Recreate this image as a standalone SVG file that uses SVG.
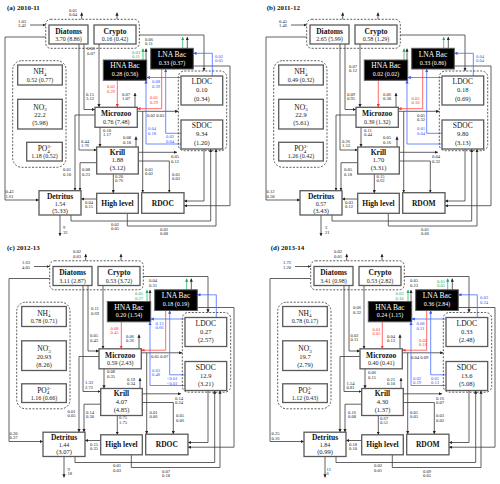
<svg xmlns="http://www.w3.org/2000/svg" width="500" height="484" viewBox="0 0 500 484">
<style>
text{font-family:"Liberation Serif","DejaVu Serif",serif}
.bx{fill:#fff;stroke:#5a5a5a;stroke-width:1.3}
.bk{fill:#000;stroke:#5a5a5a;stroke-width:1}
.dg{fill:none;stroke:#333;stroke-width:0.8;stroke-dasharray:2 1.5}
.ln{fill:none;stroke-width:0.8}
.k{stroke:#3a3a3a;marker-end:url(#ak)}
.bl{stroke:#4a6cff;marker-end:url(#ab)}
.rd{stroke:#ff4545;marker-end:url(#ar)}
.gr{stroke:#2db86a;marker-end:url(#ag)}
.nm{font-size:7.5px;font-weight:bold;text-anchor:middle;fill:#111}
.nr{font-size:7.5px;text-anchor:middle;fill:#111}
.v{font-size:6px;text-anchor:middle;fill:#222}
.v2{font-size:6.5px;text-anchor:middle;fill:#222}
.w{fill:#fff}
.lb{font-size:4.6px;fill:#222}
.lbb{fill:#3355ff}
.lbr{fill:#ff3030}
.lbg{fill:#1faa55}
.ttl{font-size:7px;font-weight:bold;fill:#111}
</style>
<defs>
<marker id="ak" viewBox="0 0 6 6" refX="6" refY="3" markerWidth="3.2" markerHeight="3.2" markerUnits="userSpaceOnUse" orient="auto"><path d="M0,0L6,3L0,6z" fill="#222"/></marker>
<marker id="ab" viewBox="0 0 6 6" refX="6" refY="3" markerWidth="3.2" markerHeight="3.2" markerUnits="userSpaceOnUse" orient="auto"><path d="M0,0L6,3L0,6z" fill="#3355ff"/></marker>
<marker id="ar" viewBox="0 0 6 6" refX="6" refY="3" markerWidth="3.2" markerHeight="3.2" markerUnits="userSpaceOnUse" orient="auto"><path d="M0,0L6,3L0,6z" fill="#ff3030"/></marker>
<marker id="ag" viewBox="0 0 6 6" refX="6" refY="3" markerWidth="3.2" markerHeight="3.2" markerUnits="userSpaceOnUse" orient="auto"><path d="M0,0L6,3L0,6z" fill="#1faa55"/></marker>
<g id="net">
<path class="ln k" d="M81.7,19.3V12.5"/>
<path class="ln k" d="M117,19.3V12.5"/>
<path class="ln k" d="M30,25H45.7"/>
<path class="ln k" d="M45.7,37H5V200H39"/>
<path class="ln k" d="M139.3,35H204V71"/>
<path class="ln k" d="M146,60V48.5"/>
<path class="ln k" d="M187.3,48.3V37"/>
<path class="ln k" d="M99,44V107.3"/>
<path class="ln k" d="M84,44V109.5H95"/>
<path class="ln k" d="M79,44V150H96.7"/>
<path class="ln k" d="M95,115H75V190.7"/>
<path class="ln k" d="M100,127.3V147"/>
<path class="ln k" d="M135,107.3V93"/>
<path class="ln k" d="M137.3,111.3H178.3"/>
<path class="ln k" d="M142.7,111.3V192.7"/>
<path class="ln k" d="M136,147V136.5"/>
<path class="ln k" d="M138.3,152.3H177"/>
<path class="ln k" d="M138.3,161H169.3V192.7"/>
<path class="ln k" d="M96.7,162.7H80V190.7"/>
<path class="ln k" d="M113.3,174V193.3"/>
<path class="ln k" d="M96.7,199H81"/>
<path class="ln k" d="M60,215V236"/>
<path class="ln k" d="M71,215V221H210.7V149"/>
<path class="ln k" d="M127.3,213.3V226H216V149"/>
<path class="ln k" d="M204,149V201H184"/>
<path class="ln k" d="M193.3,66H230V205.7H184"/>
<path class="ln gr" d="M143,60V48.5"/>
<path class="ln gr" d="M182.7,48.3V37"/>
<path class="ln bl" d="M212.3,76V53.3H193.3"/>
<path class="ln bl" d="M181,77.5H146.7"/>
<path class="ln bl" d="M181,144H146V80.3"/>
<path class="ln bl" d="M181,133.3H165.7V69"/>
<path class="ln rd" d="M117.3,80.3V107.3"/>
<path class="ln rd" d="M161.7,69V108.7H137.3"/>
</g>
</defs>
<rect width="500" height="484" fill="#fff"/>

<g id="titles">
<text class="ttl" x="7" y="10">(a) 2010-11</text>
<text class="ttl" x="266.7" y="10">(b) 2011-12</text>
<text class="ttl" x="7" y="250">(c) 2012-13</text>
<text class="ttl" x="270.7" y="250">(d) 2013-14</text>
</g>

<g id="connectors">
<use href="#net"/>
<use href="#net" transform="translate(261,0)"/>
<use href="#net" transform="translate(4,241.5)"/>
<use href="#net" transform="translate(265,241.5)"/>

<g id="labels-a">
<text class="lb" x="69" y="11.5">0.01<tspan x="69" dy="4.8">0.04</tspan></text>
<text class="lb" x="18" y="22.5">1.03<tspan x="18" dy="4.8">3.42</tspan></text>
<text class="lb" x="145" y="40.5">0.06<tspan x="145" dy="4.8">0.11</tspan></text>
<text class="lb lbg" x="132" y="53.5">0.03<tspan x="132" dy="4.8">0.11</tspan></text>
<text class="lb lbb" x="215" y="57.5">0.02<tspan x="215" dy="4.8">0.05</tspan></text>
<text class="lb lbb" x="152" y="83">0.08<tspan x="152" dy="4.8">0.39</tspan></text>
<text class="lb lbr" x="107" y="88">0.02<tspan x="107" dy="4.8">0.29</tspan></text>
<text class="lb lbr" x="150" y="99">0.01<tspan x="150" dy="4.8">0.29</tspan></text>
<text class="lb" x="87" y="50">0.05<tspan x="87" dy="4.8">0.07</tspan></text>
<text class="lb" x="86" y="95.5">0.15<tspan x="86" dy="4.8">3.12</tspan></text>
<text class="lb" x="122" y="95.5">0.07<tspan x="122" dy="4.8">1.07</tspan></text>
<text class="lb" x="147" y="116.5">0.02 0.03</text>
<text class="lb lbb" x="148" y="130">0.04<tspan x="148" dy="4.8">0.18</tspan></text>
<text class="lb lbb" x="166" y="138">0.02<tspan x="166" dy="4.8">0.04</tspan></text>
<text class="lb" x="103" y="131.5">0.10<tspan x="103" dy="4.8">1.17</tspan></text>
<text class="lb" x="81" y="142.5">0.44<tspan x="81" dy="4.8">1.76</tspan></text>
<text class="lb" x="123" y="139">0.08<tspan x="123" dy="4.8">0.18</tspan></text>
<text class="lb" x="171" y="158">0.05<tspan x="171" dy="4.8">0.12</tspan></text>
<text class="lb" x="63" y="171">0.01<tspan x="63" dy="4.8">0.10</tspan></text>
<text class="lb" x="82" y="171">0.08<tspan x="82" dy="4.8">0.23</tspan></text>
<text class="lb" x="145" y="170.5">0.01<tspan x="145" dy="4.8">0.02</tspan></text>
<text class="lb" x="172" y="175.5">0.01<tspan x="172" dy="4.8">0.03</tspan></text>
<text class="lb" x="115" y="177.5">0.20<tspan x="115" dy="4.8">0.76</tspan></text>
<text class="lb" x="5.5" y="193">0.43<tspan x="5.5" dy="4.8">1.61</tspan></text>
<text class="lb" x="85" y="203.5">0.04<tspan x="85" dy="4.8">0.15</tspan></text>
<text class="lb" x="63" y="229">9<tspan x="63" dy="4.8">32</tspan></text>
<text class="lb" x="111" y="225.5">0.02<tspan x="111" dy="4.8">0.05</tspan></text>
<text class="lb" x="160" y="230.5">0.02<tspan x="160" dy="4.8">0.08</tspan></text>
</g>

<g id="labels-b" transform="translate(261,0)">
<text class="lb" x="18" y="22.5">0.45<tspan x="18" dy="4.8">1.46</tspan></text>
<text class="lb" x="88" y="67.5">0.07<tspan x="88" dy="4.8">0.12</tspan></text>
<text class="lb" x="86" y="95.5">0.09<tspan x="86" dy="4.8">0.95</tspan></text>
<text class="lb" x="122" y="95.5">0.06<tspan x="122" dy="4.8">0.30</tspan></text>
<text class="lb lbr" x="150.5" y="99.5">0.03<tspan x="150.5" dy="4.8">0.10</tspan></text>
<text class="lb lbb" x="215" y="57.5">0.04<tspan x="215" dy="4.8">0.04</tspan></text>
<text class="lb" x="156" y="116.5">0.05<tspan x="156" dy="4.8">0.32</tspan></text>
<text class="lb lbb" x="156" y="130">0.01<tspan x="156" dy="4.8">0.04</tspan></text>
<text class="lb" x="103" y="131.5">0.11<tspan x="103" dy="4.8">0.44</tspan></text>
<text class="lb" x="81" y="142.5">0.26<tspan x="81" dy="4.8">1.53</tspan></text>
<text class="lb" x="122" y="139">0.05<tspan x="122" dy="4.8">0.16</tspan></text>
<text class="lb" x="171" y="158">0.04<tspan x="171" dy="4.8">0.32</tspan></text>
<text class="lb" x="83" y="171">0.05<tspan x="83" dy="4.8">0.18</tspan></text>
<text class="lb" x="115.5" y="177.5">0.15<tspan x="115.5" dy="4.8">0.62</tspan></text>
<text class="lb" x="5.5" y="193">0.12<tspan x="5.5" dy="4.8">0.58</tspan></text>
<text class="lb" x="84" y="203.5">0.03<tspan x="84" dy="4.8">0.12</tspan></text>
<text class="lb" x="64" y="229">3<tspan x="64" dy="4.8">21</tspan></text>
<text class="lb" x="160" y="230.5">0.01<tspan x="160" dy="4.8">0.06</tspan></text>
</g>

<g id="labels-c" transform="translate(4,241.5)">
<text class="lb" x="69" y="11.5">0.02<tspan x="69" dy="4.8">0.03</tspan></text>
<text class="lb" x="18" y="22.5">1.63<tspan x="18" dy="4.8">4.05</tspan></text>
<text class="lb" x="145" y="40.5">0.04<tspan x="145" dy="4.8">0.31</tspan></text>
<text class="lb lbg" x="131" y="53.5">0.05<tspan x="131" dy="4.8">0.27</tspan></text>
<text class="lb lbr" x="106.5" y="88">0.08<tspan x="106.5" dy="4.8">0.45</tspan></text>
<text class="lb lbb" x="151.5" y="83">0.13<tspan x="151.5" dy="4.8">0.66</tspan></text>
<text class="lb" x="87" y="68.5">0.11<tspan x="87" dy="4.8">0.69</tspan></text>
<text class="lb" x="86" y="95.5">0.05<tspan x="86" dy="4.8">0.43</tspan></text>
<text class="lb" x="122" y="96">0.06<tspan x="122" dy="4.8">0.36</tspan></text>
<text class="lb" x="147" y="116.5">0.05 0.07</text>
<text class="lb lbb" x="148" y="130">0.03<tspan x="148" dy="4.8">0.48</tspan></text>
<text class="lb lbb" x="163" y="138.5">&lt;0.01<tspan x="163" dy="4.8">&lt;0.01</tspan></text>
<text class="lb" x="103" y="131.5">0.08<tspan x="103" dy="4.8">0.35</tspan></text>
<text class="lb" x="81" y="142.5">1.33<tspan x="81" dy="4.8">2.72</tspan></text>
<text class="lb" x="123" y="139">0.19<tspan x="123" dy="4.8">0.34</tspan></text>
<text class="lb" x="171" y="158">0.14<tspan x="171" dy="4.8">0.24</tspan></text>
<text class="lb" x="63.5" y="171">0.01<tspan x="63.5" dy="4.8">0.05</tspan></text>
<text class="lb" x="82" y="172">0.14<tspan x="82" dy="4.8">0.30</tspan></text>
<text class="lb" x="145.5" y="172">0.01<tspan x="145.5" dy="4.8">0.06</tspan></text>
<text class="lb" x="172" y="175.5">0.05<tspan x="172" dy="4.8">0.06</tspan></text>
<text class="lb" x="115" y="177.5">0.75<tspan x="115" dy="4.8">1.75</tspan></text>
<text class="lb" x="5.5" y="193">0.20<tspan x="5.5" dy="4.8">0.37</tspan></text>
<text class="lb" x="86" y="204">0.15<tspan x="86" dy="4.8">0.35</tspan></text>
<text class="lb" x="63.5" y="229">9<tspan x="63.5" dy="4.8">18</tspan></text>
<text class="lb" x="109" y="225.5">0.01<tspan x="109" dy="4.8">0.03</tspan></text>
<text class="lb" x="158" y="231">0.07<tspan x="158" dy="4.8">0.18</tspan></text>
</g>

<g id="labels-d" transform="translate(265,241.5)">
<text class="lb" x="69" y="11.5">0.02<tspan x="69" dy="4.8">0.01</tspan></text>
<text class="lb" x="18" y="22.5">1.72<tspan x="18" dy="4.8">1.20</tspan></text>
<text class="lb" x="145" y="40.5">0.05<tspan x="145" dy="4.8">0.23</tspan></text>
<text class="lb lbg" x="130.5" y="53.5">0.03<tspan x="130.5" dy="4.8">0.10</tspan></text>
<text class="lb lbg" x="172" y="41">0.01<tspan x="172" dy="4.8">0.05</tspan></text>
<text class="lb lbb" x="215" y="57.5">0.03<tspan x="215" dy="4.8">0.24</tspan></text>
<text class="lb lbb" x="151.5" y="83.5">0.08<tspan x="151.5" dy="4.8">0.21</tspan></text>
<text class="lb lbr" x="107.5" y="89">0.01<tspan x="107.5" dy="4.8">0.05</tspan></text>
<text class="lb lbr" x="154" y="100">0.02<tspan x="154" dy="4.8">0.16</tspan></text>
<text class="lb" x="88" y="67.5">0.06<tspan x="88" dy="4.8">0.32</tspan></text>
<text class="lb" x="85.5" y="95">0.02<tspan x="85.5" dy="4.8">0.11</tspan></text>
<text class="lb" x="122" y="96">0.04<tspan x="122" dy="4.8">0.13</tspan></text>
<text class="lb" x="146" y="117">0.04 0.09</text>
<text class="lb lbb" x="148" y="138">0.02<tspan x="148" dy="4.8">0.19</tspan></text>
<text class="lb lbb" x="166" y="138">0.01<tspan x="166" dy="4.8">0.13</tspan></text>
<text class="lb" x="103" y="132.5">0.06<tspan x="103" dy="4.8">0.15</tspan></text>
<text class="lb" x="81.5" y="143">1.54<tspan x="81.5" dy="4.8">0.81</tspan></text>
<text class="lb" x="122" y="139">0.21<tspan x="122" dy="4.8">0.10</tspan></text>
<text class="lb" x="171" y="158">0.16<tspan x="171" dy="4.8">0.07</tspan></text>
<text class="lb" x="83" y="172">0.16<tspan x="83" dy="4.8">0.08</tspan></text>
<text class="lb" x="145" y="172">0.01<tspan x="145" dy="4.8">0.05</tspan></text>
<text class="lb" x="171" y="175.5">0.03<tspan x="171" dy="4.8">0.02</tspan></text>
<text class="lb" x="115" y="178">0.67<tspan x="115" dy="4.8">0.51</tspan></text>
<text class="lb" x="6.5" y="193.5">0.25<tspan x="6.5" dy="4.8">0.16</tspan></text>
<text class="lb" x="84" y="204">0.18<tspan x="84" dy="4.8">0.10</tspan></text>
<text class="lb" x="61.5" y="229">11<tspan x="61.5" dy="4.8">6</tspan></text>
<text class="lb" x="109" y="225.5">0.02<tspan x="109" dy="4.8">0.01</tspan></text>
<text class="lb" x="158" y="231">0.09<tspan x="158" dy="4.8">0.05</tspan></text>
</g>
</g>

<g id="panel-a">
<g id="a-phyto"><rect class="dg" x="45.7" y="19.3" width="93.6" height="29" rx="5"/></g>
<g id="a-diatoms"><rect class="bx" x="49" y="25" width="39" height="19"/><text class="nm" x="68.5" y="33.7">Diatoms</text><text class="v" x="68.5" y="41.2">3.70 (8.86)</text></g>
<g id="a-crypto"><rect class="bx" x="94" y="25" width="42" height="19"/><text class="nm" x="115" y="33.7">Crypto</text><text class="v" x="115" y="41.2">0.16 (0.42)</text></g>
<g id="a-nutrients"><rect class="dg" x="12.7" y="60.7" width="53.3" height="106.6" rx="9"/></g>
<g id="a-nh4"><rect class="bx" x="17.7" y="65" width="44.6" height="20"/><text class="nr" x="40" y="74">NH<tspan dy="1.5" font-size="5">4</tspan><tspan dx="-2.6" dy="-4.5" font-size="5">+</tspan></text><text class="v" x="40" y="81.5">0.52 (0.77)</text></g>
<g id="a-no3"><rect class="bx" x="17.7" y="99.3" width="44.6" height="29.7"/><text class="nr" x="40" y="109.5">NO<tspan dy="1.5" font-size="5">3</tspan><tspan dx="-2.6" dy="-4.5" font-size="5">-</tspan></text><text class="v2" x="40" y="117">22.2</text><text class="v2" x="40" y="125">(5.98)</text></g>
<g id="a-po4"><rect class="bx" x="26.7" y="142.3" width="35.6" height="18.7"/><text class="nr" x="44.5" y="151">PO<tspan dy="1.5" font-size="5">4</tspan><tspan dx="-2.6" dy="-4.5" font-size="5">3-</tspan></text><text class="v" x="44.5" y="158.2">1.18 (0.52)</text></g>
<g id="a-hna"><rect class="bk" x="103.3" y="60" width="43.4" height="20.3"/><text class="nr w" x="125" y="68.3">HNA Bac</text><text class="v w" x="125" y="75.8">0.28 (0.56)</text></g>
<g id="a-lna"><rect class="bk" x="150.7" y="48.3" width="42.6" height="20.7"/><text class="nr w" x="172" y="56.8">LNA Bac</text><text class="v w" x="172" y="64.5">0.33 (0.37)</text></g>
<g id="a-dom"><rect class="dg" x="178.3" y="71" width="48.4" height="79.7" rx="6"/></g>
<g id="a-ldoc"><rect class="bx" x="181" y="76" width="41.7" height="29"/><text class="nr" x="201.8" y="84.3">LDOC</text><text class="v2" x="201.8" y="92">0.10</text><text class="v2" x="201.8" y="100.7">(0.34)</text></g>
<g id="a-sdoc"><rect class="bx" x="181" y="120" width="41.7" height="29"/><text class="nr" x="201.8" y="128.3">SDOC</text><text class="v2" x="201.8" y="136">9.34</text><text class="v2" x="201.8" y="144.7">(1.20)</text></g>
<g id="a-microzoo"><rect class="bx" x="95" y="107.3" width="42.3" height="20"/><text class="nm" x="116.2" y="116.3">Microzoo</text><text class="v" x="116.2" y="123.8">0.76 (7.48)</text></g>
<g id="a-krill"><rect class="bx" x="96.7" y="147" width="41.6" height="27"/><text class="nm" x="117.5" y="154.8">Krill</text><text class="v2" x="117.5" y="162">1.88</text><text class="v2" x="117.5" y="170.3">(3.12)</text></g>
<g id="a-high"><rect class="bx" x="96.7" y="193.3" width="41.6" height="20"/><text class="nm" x="117.5" y="205.8">High level</text></g>
<g id="a-rdoc"><rect class="bx" x="141.7" y="192.7" width="42.3" height="20.6"/><text class="nm" x="162.8" y="205.6">RDOC</text></g>
<g id="a-detritus"><rect class="bx" x="39" y="190.7" width="42" height="24.3"/><text class="nm" x="60" y="198.5">Detritus</text><text class="v" x="60" y="205.5">1.54</text><text class="v2" x="60" y="212.8">(5.33)</text></g>
</g>

<g id="panel-b" transform="translate(261,0)">
<g id="b-phyto"><rect class="dg" x="45.7" y="19.3" width="93.6" height="29" rx="5"/></g>
<g id="b-diatoms"><rect class="bx" x="49" y="25" width="39" height="19"/><text class="nm" x="68.5" y="33.7">Diatoms</text><text class="v" x="68.5" y="41.2">2.65 (5.99)</text></g>
<g id="b-crypto"><rect class="bx" x="94" y="25" width="42" height="19"/><text class="nm" x="115" y="33.7">Crypto</text><text class="v" x="115" y="41.2">0.58 (1.29)</text></g>
<g id="b-nutrients"><rect class="dg" x="12.7" y="60.7" width="53.3" height="106.6" rx="9"/></g>
<g id="b-nh4"><rect class="bx" x="17.7" y="65" width="44.6" height="20"/><text class="nr" x="40" y="74">NH<tspan dy="1.5" font-size="5">4</tspan><tspan dx="-2.6" dy="-4.5" font-size="5">+</tspan></text><text class="v" x="40" y="81.5">0.49 (0.32)</text></g>
<g id="b-no3"><rect class="bx" x="17.7" y="99.3" width="44.6" height="29.7"/><text class="nr" x="40" y="109.5">NO<tspan dy="1.5" font-size="5">3</tspan><tspan dx="-2.6" dy="-4.5" font-size="5">-</tspan></text><text class="v2" x="40" y="117">22.9</text><text class="v2" x="40" y="125">(5.61)</text></g>
<g id="b-po4"><rect class="bx" x="17.7" y="142.3" width="44.6" height="18.7"/><text class="nr" x="40" y="151">PO<tspan dy="1.5" font-size="5">4</tspan><tspan dx="-2.6" dy="-4.5" font-size="5">3-</tspan></text><text class="v" x="40" y="158.2">1.26 (0.42)</text></g>
<g id="b-hna"><rect class="bk" x="103.3" y="60" width="43.4" height="20.3"/><text class="nr w" x="125" y="68.3">HNA Bac</text><text class="v w" x="125" y="75.8">0.02 (0.02)</text></g>
<g id="b-lna"><rect class="bk" x="150.7" y="48.3" width="42.6" height="20.7"/><text class="nr w" x="172" y="56.8">LNA Bac</text><text class="v w" x="172" y="64.5">0.33 (0.86)</text></g>
<g id="b-dom"><rect class="dg" x="178.3" y="71" width="48.4" height="79.7" rx="6"/></g>
<g id="b-ldoc"><rect class="bx" x="181" y="76" width="41.7" height="29"/><text class="nr" x="201.8" y="84.3">LDOC</text><text class="v2" x="201.8" y="92">0.18</text><text class="v2" x="201.8" y="100.7">(0.69)</text></g>
<g id="b-sdoc"><rect class="bx" x="181" y="120" width="41.7" height="29"/><text class="nr" x="201.8" y="128.3">SDOC</text><text class="v2" x="201.8" y="136">9.80</text><text class="v2" x="201.8" y="144.7">(3.13)</text></g>
<g id="b-microzoo"><rect class="bx" x="95" y="107.3" width="42.3" height="20"/><text class="nm" x="116.2" y="116.3">Microzoo</text><text class="v" x="116.2" y="123.8">0.39 (1.32)</text></g>
<g id="b-krill"><rect class="bx" x="96.7" y="147" width="41.6" height="27"/><text class="nm" x="117.5" y="154.8">Krill</text><text class="v2" x="117.5" y="162">1.70</text><text class="v2" x="117.5" y="170.3">(3.31)</text></g>
<g id="b-high"><rect class="bx" x="96.7" y="193.3" width="41.6" height="20"/><text class="nm" x="117.5" y="205.8">High level</text></g>
<g id="b-rdom"><rect class="bx" x="141.7" y="192.7" width="42.3" height="20.6"/><text class="nm" x="162.8" y="205.6">RDOM</text></g>
<g id="b-detritus"><rect class="bx" x="39" y="190.7" width="42" height="24.3"/><text class="nm" x="60" y="198.5">Detritus</text><text class="v" x="60" y="205.5">0.57</text><text class="v2" x="60" y="212.8">(3.43)</text></g>
</g>

<g id="panel-c" transform="translate(4,241.5)">
<g id="c-phyto"><rect class="dg" x="45.7" y="19.3" width="93.6" height="29" rx="5"/></g>
<g id="c-diatoms"><rect class="bx" x="49" y="25" width="39" height="19"/><text class="nm" x="68.5" y="33.7">Diatoms</text><text class="v" x="68.5" y="41.2">3.11 (2.87)</text></g>
<g id="c-crypto"><rect class="bx" x="94" y="25" width="42" height="19"/><text class="nm" x="115" y="33.7">Crypto</text><text class="v" x="115" y="41.2">0.53 (3.72)</text></g>
<g id="c-nutrients"><rect class="dg" x="12.7" y="60.7" width="53.3" height="106.6" rx="9"/></g>
<g id="c-nh4"><rect class="bx" x="17.7" y="65" width="44.6" height="20"/><text class="nr" x="40" y="74">NH<tspan dy="1.5" font-size="5">4</tspan><tspan dx="-2.6" dy="-4.5" font-size="5">+</tspan></text><text class="v" x="40" y="81.5">0.78 (0.71)</text></g>
<g id="c-no3"><rect class="bx" x="17.7" y="99.3" width="44.6" height="29.7"/><text class="nr" x="40" y="109.5">NO<tspan dy="1.5" font-size="5">3</tspan><tspan dx="-2.6" dy="-4.5" font-size="5">-</tspan></text><text class="v2" x="40" y="117">20.93</text><text class="v2" x="40" y="125">(8.26)</text></g>
<g id="c-po4"><rect class="bx" x="17.7" y="142.3" width="44.6" height="18.7"/><text class="nr" x="40" y="151">PO<tspan dy="1.5" font-size="5">4</tspan><tspan dx="-2.6" dy="-4.5" font-size="5">3-</tspan></text><text class="v" x="40" y="158.2">1.16 (0.66)</text></g>
<g id="c-hna"><rect class="bk" x="103.3" y="60" width="43.4" height="20.3"/><text class="nr w" x="125" y="68.3">HNA Bac</text><text class="v w" x="125" y="75.8">0.20 (1.54)</text></g>
<g id="c-lna"><rect class="bk" x="150.7" y="48.3" width="42.6" height="20.7"/><text class="nr w" x="172" y="56.8">LNA Bac</text><text class="v w" x="172" y="64.5">0.18 (0.19)</text></g>
<g id="c-dom"><rect class="dg" x="178.3" y="71" width="48.4" height="79.7" rx="6"/></g>
<g id="c-ldoc"><rect class="bx" x="181" y="76" width="41.7" height="29"/><text class="nr" x="201.8" y="84.3">LDOC</text><text class="v2" x="201.8" y="92">0.27</text><text class="v2" x="201.8" y="100.7">(2.57)</text></g>
<g id="c-sdoc"><rect class="bx" x="181" y="120" width="41.7" height="29"/><text class="nr" x="201.8" y="128.3">SDOC</text><text class="v2" x="201.8" y="136">12.9</text><text class="v2" x="201.8" y="144.7">(3.21)</text></g>
<g id="c-microzoo"><rect class="bx" x="95" y="107.3" width="42.3" height="20"/><text class="nm" x="116.2" y="116.3">Microzoo</text><text class="v" x="116.2" y="123.8">0.59 (2.43)</text></g>
<g id="c-krill"><rect class="bx" x="96.7" y="147" width="41.6" height="27"/><text class="nm" x="117.5" y="154.8">Krill</text><text class="v2" x="117.5" y="162">4.07</text><text class="v2" x="117.5" y="170.3">(4.85)</text></g>
<g id="c-high"><rect class="bx" x="96.7" y="193.3" width="41.6" height="20"/><text class="nm" x="117.5" y="205.8">High level</text></g>
<g id="c-rdoc"><rect class="bx" x="141.7" y="192.7" width="42.3" height="20.6"/><text class="nm" x="162.8" y="205.6">RDOC</text></g>
<g id="c-detritus"><rect class="bx" x="39" y="190.7" width="42" height="24.3"/><text class="nm" x="60" y="198.5">Detritus</text><text class="v" x="60" y="205.5">1.44</text><text class="v2" x="60" y="212.8">(3.07)</text></g>
</g>

<g id="panel-d" transform="translate(265,241.5)">
<g id="d-phyto"><rect class="dg" x="45.7" y="19.3" width="93.6" height="29" rx="5"/></g>
<g id="d-diatoms"><rect class="bx" x="49" y="25" width="39" height="19"/><text class="nm" x="68.5" y="33.7">Diatoms</text><text class="v" x="68.5" y="41.2">3.41 (0.98)</text></g>
<g id="d-crypto"><rect class="bx" x="94" y="25" width="42" height="19"/><text class="nm" x="115" y="33.7">Crypto</text><text class="v" x="115" y="41.2">0.53 (2.82)</text></g>
<g id="d-nutrients"><rect class="dg" x="12.7" y="60.7" width="53.3" height="106.6" rx="9"/></g>
<g id="d-nh4"><rect class="bx" x="17.7" y="65" width="44.6" height="20"/><text class="nr" x="40" y="74">NH<tspan dy="1.5" font-size="5">4</tspan><tspan dx="-2.6" dy="-4.5" font-size="5">+</tspan></text><text class="v" x="40" y="81.5">0.78 (0.17)</text></g>
<g id="d-no3"><rect class="bx" x="17.7" y="99.3" width="44.6" height="29.7"/><text class="nr" x="40" y="109.5">NO<tspan dy="1.5" font-size="5">3</tspan><tspan dx="-2.6" dy="-4.5" font-size="5">-</tspan></text><text class="v2" x="40" y="117">19.7</text><text class="v2" x="40" y="125">(2.79)</text></g>
<g id="d-po4"><rect class="bx" x="17.7" y="142.3" width="44.6" height="18.7"/><text class="nr" x="40" y="151">PO<tspan dy="1.5" font-size="5">4</tspan><tspan dx="-2.6" dy="-4.5" font-size="5">3-</tspan></text><text class="v" x="40" y="158.2">1.12 (0.43)</text></g>
<g id="d-hna"><rect class="bk" x="103.3" y="60" width="43.4" height="20.3"/><text class="nr w" x="125" y="68.3">HNA Bac</text><text class="v w" x="125" y="75.8">0.24 (1.15)</text></g>
<g id="d-lna"><rect class="bk" x="150.7" y="48.3" width="42.6" height="20.7"/><text class="nr w" x="172" y="56.8">LNA Bac</text><text class="v w" x="172" y="64.5">0.36 (2.84)</text></g>
<g id="d-dom"><rect class="dg" x="178.3" y="71" width="48.4" height="79.7" rx="6"/></g>
<g id="d-ldoc"><rect class="bx" x="181" y="76" width="41.7" height="29"/><text class="nr" x="201.8" y="84.3">LDOC</text><text class="v2" x="201.8" y="92">0.33</text><text class="v2" x="201.8" y="100.7">(2.48)</text></g>
<g id="d-sdoc"><rect class="bx" x="181" y="120" width="41.7" height="29"/><text class="nr" x="201.8" y="128.3">SDOC</text><text class="v2" x="201.8" y="136">13.6</text><text class="v2" x="201.8" y="144.7">(5.08)</text></g>
<g id="d-microzoo"><rect class="bx" x="95" y="107.3" width="42.3" height="20"/><text class="nm" x="116.2" y="116.3">Microzoo</text><text class="v" x="116.2" y="123.8">0.40 (0.41)</text></g>
<g id="d-krill"><rect class="bx" x="96.7" y="147" width="41.6" height="27"/><text class="nm" x="117.5" y="154.8">Krill</text><text class="v2" x="117.5" y="162">4.30</text><text class="v2" x="117.5" y="170.3">(1.37)</text></g>
<g id="d-high"><rect class="bx" x="96.7" y="193.3" width="41.6" height="20"/><text class="nm" x="117.5" y="205.8">High level</text></g>
<g id="d-rdom"><rect class="bx" x="141.7" y="192.7" width="42.3" height="20.6"/><text class="nm" x="162.8" y="205.6">RDOM</text></g>
<g id="d-detritus"><rect class="bx" x="39" y="190.7" width="42" height="24.3"/><text class="nm" x="60" y="198.5">Detritus</text><text class="v" x="60" y="205.5">1.84</text><text class="v2" x="60" y="212.8">(0.99)</text></g>
</g>
</svg>
